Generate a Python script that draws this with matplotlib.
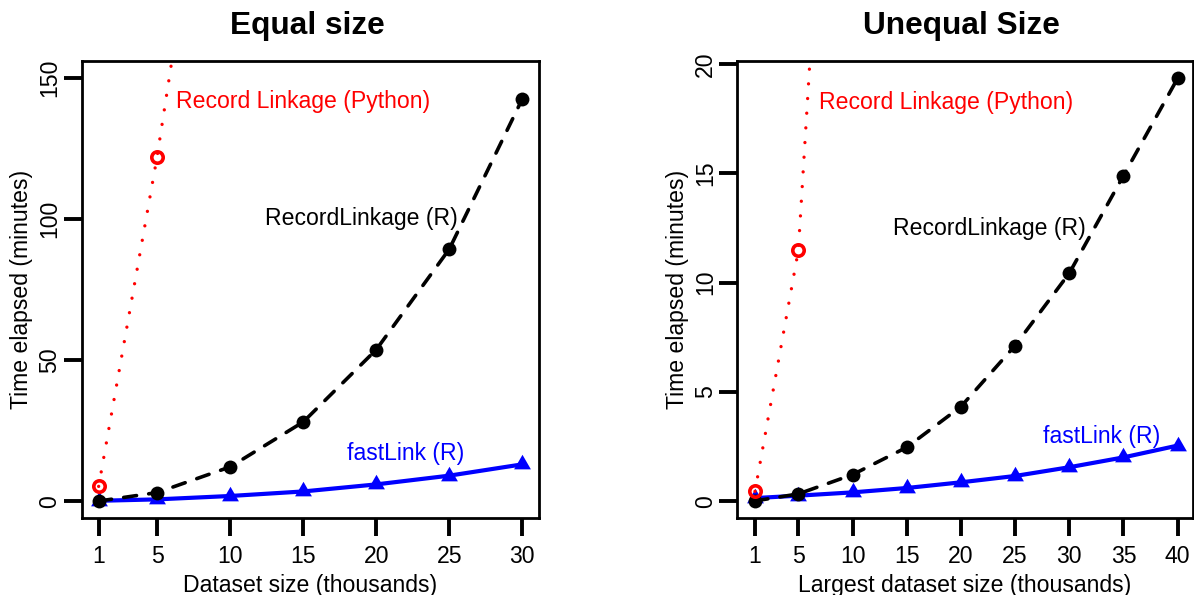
import matplotlib
matplotlib.use("Agg")
import matplotlib.pyplot as plt
from matplotlib.path import Path

plt.rcParams['font.family'] = ['Liberation Sans', 'DejaVu Sans']

# Equal size benchmark (minutes)
eq_sizes = [1, 5, 10, 15, 20, 25, 30]
eq_fastlink = [0.2, 0.7, 1.9, 3.5, 6.0, 9.1, 13.1]
eq_rl_r = [0.1, 3.1, 12.2, 28.1, 53.7, 89.3, 142.5]
eq_py_sizes = [1, 5, 10]
eq_rl_py = [5.3, 122.0, 290.0]

# Unequal size benchmark (minutes)
uneq_sizes = [1, 5, 10, 15, 20, 25, 30, 35, 40]
uneq_fastlink = [0.15, 0.26, 0.41, 0.61, 0.87, 1.16, 1.56, 2.01, 2.55]
uneq_rl_r = [0.02, 0.34, 1.22, 2.47, 4.33, 7.12, 10.43, 14.89, 19.34]
uneq_py_sizes = [1, 5, 10]
uneq_rl_py = [0.46, 11.48, 52.0]

RED, BLUE, BLACK = '#FF0000', '#0000FF', '#000000'
FS = 16.6

# filled triangle centred on its centroid
TRI = Path([(0, 1), (-0.866, -0.5), (0.866, -0.5), (0, 0)],
           [Path.MOVETO, Path.LINETO, Path.LINETO, Path.CLOSEPOLY])

W, H = 1194, 595
fig = plt.figure(figsize=(W / 100, H / 100), dpi=100)


def pad(lo, hi, f=0.04):
    d = (hi - lo) * f
    return lo - d, hi + d


def panel(rect, title, sizes, fl, rl, py_x, py, xlim, ylim, yticks, xlabel,
          lab_py, lab_rl, lab_fl):
    ax = fig.add_axes(rect)
    ax.plot(sizes, fl, color=BLUE, lw=3.0, marker=TRI, ms=14, mew=0,
            zorder=2)
    ax.plot(sizes, rl, color=BLACK, lw=2.6, dashes=(3.6, 3.4),
            dash_capstyle='round', marker='o', ms=10, mew=0, zorder=3)
    ax.plot(py_x, py, color=RED, lw=2.4, dashes=(0.01, 4.4),
            dash_capstyle='round', marker='o', ms=8.2, mfc='none', mec=RED,
            mew=2.6, zorder=4)
    ax.set_xlim(*xlim)
    ax.set_ylim(*ylim)
    ax.set_xticks(sizes)
    ax.set_yticks(yticks)
    ax.tick_params(direction='out', length=13.2, width=2.8, labelsize=FS,
                   color=BLACK)
    ax.tick_params(axis='x', pad=6.3)
    ax.tick_params(axis='y', pad=1.5, labelrotation=90)
    for t in ax.get_yticklabels():
        t.set_va('center')
    for s in ax.spines.values():
        s.set_linewidth(2.0)
    ax.set_xlabel(xlabel, fontsize=FS)
    ax.set_ylabel('Time elapsed (minutes)', fontsize=FS)
    ax.xaxis.set_label_coords(0.5, -0.1217)
    ax.yaxis.set_label_coords(-0.107, 0.5)
    ax.text(0.493, 1.0583, title, transform=ax.transAxes, ha='center',
            va='baseline', fontsize=22.8, fontweight='bold')
    ax.text(*lab_py, 'Record Linkage (Python)', color=RED, fontsize=FS,
            ha='center', va='baseline')
    ax.text(*lab_rl, 'RecordLinkage (R)', color=BLACK, fontsize=FS,
            ha='center', va='baseline')
    ax.text(*lab_fl, 'fastLink (R)', color=BLUE, fontsize=FS,
            ha='center', va='baseline')
    return ax


panel([81.7 / W, (H - 518.3) / H, 457.6 / W, 457.6 / H], 'Equal size',
      eq_sizes, eq_fastlink, eq_rl_r, eq_py_sizes, eq_rl_py,
      pad(1, 30), pad(0, 150), [0, 50, 100, 150],
      'Dataset size (thousands)',
      (15, 139.2), (19, 97.8), (22, 14.5))

panel([737.3 / W, (H - 518.3) / H, 455.2 / W, 457.6 / H], 'Unequal Size',
      uneq_sizes, uneq_fastlink, uneq_rl_r, uneq_py_sizes, uneq_rl_py,
      (-0.633, 41.37), pad(0, 19.37), [0, 5, 10, 15, 20],
      'Largest dataset size (thousands)',
      (18.6, 17.92), (22.6, 12.17), (33, 2.68))

fig.savefig('out.png', dpi=100)
